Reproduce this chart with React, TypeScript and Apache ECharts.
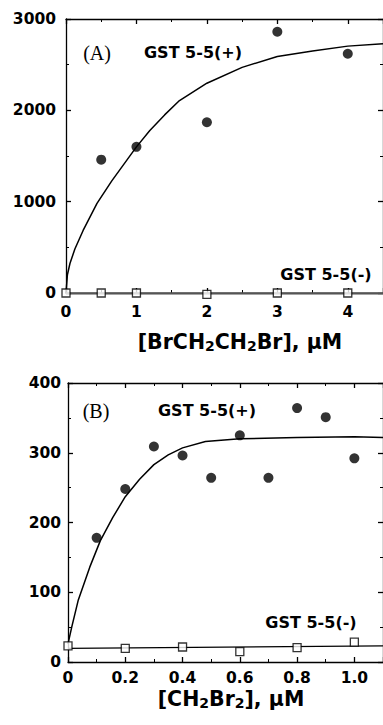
import React, { useEffect, useRef } from "react";
import * as echarts from "echarts";

// Panel A: [BrCH2CH2Br]
const aPlusX = [0.5, 1, 2, 3, 4];
const aPlusY = [1460, 1600, 1870, 2860, 2620];
const aMinusX = [0, 0.5, 1, 2, 3, 4];
const aMinusY = [0, 0, 0, -15, 0, 0];
const aFitX = [0, 0.02, 0.056, 0.126, 0.243, 0.44, 0.65, 1.0, 1.19, 1.4, 1.6, 2.0, 2.5, 3.0, 3.5, 4.0, 4.5];
const aFitY = [0, 200, 323, 482, 685, 982, 1228, 1600, 1780, 1950, 2100, 2297, 2470, 2590, 2650, 2703, 2730];
const aMinusFitX = [0, 4.5];
const aMinusFitY = [-4, -4];

// Panel B: [CH2Br2]
const bPlusX = [0.1, 0.2, 0.3, 0.4, 0.5, 0.6, 0.7, 0.8, 0.9, 1.0];
const bPlusY = [178, 248, 309, 296, 264, 325, 264, 364, 351, 292];
const bMinusX = [0, 0.2, 0.4, 0.6, 0.8, 1.0];
const bMinusY = [23, 19.5, 21.5, 15, 20.5, 28.5];
const bFitX = [0, 0.013, 0.036, 0.076, 0.113, 0.156, 0.2, 0.25, 0.3, 0.35, 0.4, 0.48, 0.6, 0.8, 1.0, 1.1];
const bFitY = [26, 50, 89, 136, 174, 207, 237, 262, 283, 297, 307, 316, 320, 322, 323, 322];
const bMinusFitX = [0, 1.1];
const bMinusFitY = [19.5, 23];

const zip = (xs: number[], ys: number[]) => xs.map((x, i) => [x, ys[i]]);

const FONT = "DejaVu Sans";
const axisLineStyle = { color: "#000", width: 1.3 };

function App() {
  const ref = useRef<HTMLDivElement>(null);
  useEffect(() => {
    document.body.style.margin = "0";
    const chart = echarts.init(ref.current!, null, { renderer: "svg" });
    const tickLabel = (margin: number, fmt: (v: number) => string) => ({
      show: true,
      color: "#000",
      fontFamily: FONT,
      fontWeight: "bold" as const,
      fontSize: 15.5,
      margin,
      formatter: fmt,
    });
    const mkAxis = (
      gridIndex: number,
      position: string,
      min: number,
      max: number,
      interval: number,
      label: any,
      showMax = true
    ) => ({
      type: "value",
      gridIndex,
      position,
      min,
      max,
      interval,
      splitLine: { show: false },
      axisLine: { show: true, lineStyle: axisLineStyle, onZero: false },
      axisTick: { show: true, inside: true, length: 5, lineStyle: axisLineStyle },
      minorTick: { show: true, splitNumber: 2, length: 3, lineStyle: { color: "#000", width: 1 } },
      axisLabel: label ? { ...label, showMaxLabel: showMax } : { show: false },
    });
    const fmtInt = (v: number) => String(v);
    const fmtB = (v: number) => (v === 0 ? "0" : v.toFixed(1));
    const subText = (parts: [string, boolean][]) =>
      parts.map(([t, sub]) => (sub ? `{s|${t}}` : `{m|${t}}`)).join("");
    const rich = {
      m: { fontFamily: FONT, fontWeight: "bold", fontSize: 20.5, lineHeight: 22, fill: "#000" },
      s: { fontFamily: FONT, fontWeight: "bold", fontSize: 14, lineHeight: 12, verticalAlign: "bottom", fill: "#000" },
    };
    const label = (x: number, y: number, text: string, size = 16, serif = false) => ({
      type: "text",
      x,
      y,
      style: {
        text,
        fill: "#000",
        font: serif
          ? `${size}px "Liberation Serif", serif`
          : `bold ${size}px "${FONT}", sans-serif`,
        align: "center",
        verticalAlign: "middle",
      },
    });
    const lineSeries = (xi: number, data: number[][], color = "#000", width = 1.5) => ({
      type: "line",
      xAxisIndex: xi,
      yAxisIndex: xi,
      data,
      showSymbol: false,
      symbol: "none",
      smooth: false,
      lineStyle: { color, width },
      clip: false,
      z: 2,
    });
    const circles = (xi: number, data: number[][]) => ({
      type: "scatter",
      xAxisIndex: xi,
      yAxisIndex: xi,
      data,
      symbol: "circle",
      symbolSize: 10,
      itemStyle: { color: "#000" },
      clip: false,
      z: 3,
    });
    const squares = (xi: number, data: number[][]) => ({
      type: "scatter",
      xAxisIndex: xi,
      yAxisIndex: xi,
      data,
      symbol: "rect",
      symbolSize: 8,
      itemStyle: { color: "#fff", borderColor: "#000", borderWidth: 1.3 },
      clip: false,
      z: 4,
    });
    chart.setOption({
      animation: false,
      backgroundColor: "#fff",
      grid: [
        { left: 66, top: 19, width: 321, height: 274 },
        { left: 68, top: 383, width: 319, height: 279 },
      ],
      xAxis: [
        mkAxis(0, "bottom", 0, 4.5, 1, tickLabel(11, fmtInt), false),
        mkAxis(0, "top", 0, 4.5, 1, null),
        mkAxis(1, "bottom", 0, 1.1, 0.2, tickLabel(8, fmtB), false),
        mkAxis(1, "top", 0, 1.1, 0.2, null),
      ],
      yAxis: [
        mkAxis(0, "left", 0, 3000, 1000, tickLabel(10, fmtInt)),
        mkAxis(0, "right", 0, 3000, 1000, null),
        mkAxis(1, "left", 0, 400, 100, tickLabel(7, fmtInt)),
        mkAxis(1, "right", 0, 400, 100, null),
      ],
      series: [
        lineSeries(0, zip(aFitX, aFitY)),
        lineSeries(0, zip(aMinusFitX, aMinusFitY), "#555", 2),
        circles(0, zip(aPlusX, aPlusY)),
        squares(0, zip(aMinusX, aMinusY)),
        lineSeries(2, zip(bFitX, bFitY)),
        lineSeries(2, zip(bMinusFitX, bMinusFitY), "#000", 1.3),
        circles(2, zip(bPlusX, bPlusY)),
        squares(2, zip(bMinusX, bMinusY)),
      ],
      graphic: [
        label(97, 53, "(A)", 20, true),
        label(193, 52, "GST 5-5(+)"),
        label(326, 274, "GST 5-5(-)"),
        label(96, 411, "(B)", 20, true),
        label(207, 410, "GST 5-5(+)"),
        label(311, 622, "GST 5-5(-)"),
        {
          type: "text",
          x: 240,
          y: 342,
          style: {
            text: subText([["[BrCH", false], ["2", true], ["CH", false], ["2", true], ["Br], μM", false]]),
            rich,
            align: "center",
            verticalAlign: "middle",
          },
        },
        {
          type: "text",
          x: 231,
          y: 699,
          style: {
            text: subText([["[CH", false], ["2", true], ["Br", false], ["2", true], ["], μM", false]]),
            rich,
            align: "center",
            verticalAlign: "middle",
          },
        },
      ],
    });
    return () => chart.dispose();
  }, []);
  return <div ref={ref} style={{ width: 383, height: 725 }} />;
}

export default App;
